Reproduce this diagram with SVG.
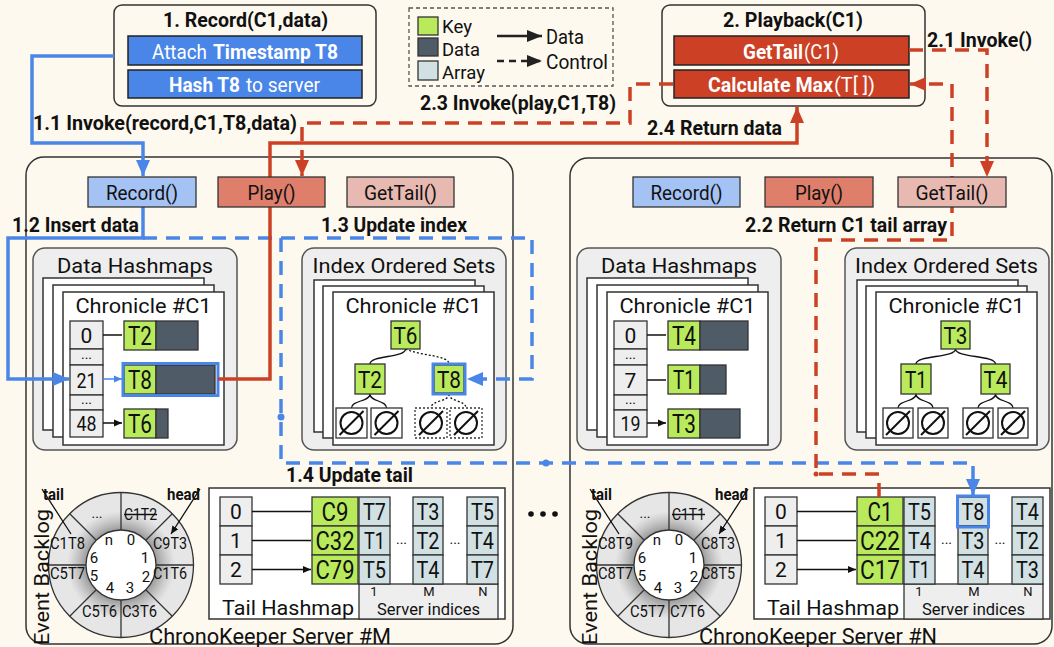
<svg xmlns="http://www.w3.org/2000/svg" width="1054" height="647" viewBox="0 0 1054 647">
<defs>
<style>
text{font-family:Roboto,"Liberation Sans",sans-serif;fill:#111}
.b{font-weight:bold;font-size:20px}
.n{font-size:20px}
.lg{font-size:19px}
.m{text-anchor:middle}
.w{fill:#fff}
.srv{fill:#fef9ef;stroke:#333;stroke-width:1.5}
.top{fill:#fef9ef;stroke:#333;stroke-width:1.5}
.pan{fill:#eeeeee;stroke:#555;stroke-width:1.5}
.pg{fill:#fff;stroke:#333;stroke-width:1.5}
.ix{fill:#eeeeee;stroke:#333;stroke-width:1.3}
.key{fill:#b9ea5c;stroke:#333;stroke-width:1.3}
.dat{fill:#4f5b66;stroke:#333;stroke-width:1.3}
.arr{fill:#d0e0e3;stroke:#333;stroke-width:1.3}
.bl{fill:none;stroke:#4a86e8;stroke-width:3.5}
.rd{fill:none;stroke:#cc4125;stroke-width:3.5}
.ds{stroke-dasharray:14 9}
.thin{fill:none;stroke:#111;stroke-width:1.3}
.nul{fill:#fff;stroke:#333;stroke-width:1.3}
.dot{stroke-dasharray:2 2}
.sym{fill:none;stroke:#111;stroke-width:2}
.kt{font-size:26px;text-anchor:middle}
.tk{font-size:24px;text-anchor:middle}
.at{font-size:23px;text-anchor:middle}
.it{font-size:21px;text-anchor:middle}
.rl{font-size:17px;text-anchor:middle}
.rn{font-size:15px;text-anchor:middle}
.sm{font-size:14px;text-anchor:middle}
.si{font-size:13px;text-anchor:middle}
.bluebox{fill:none;stroke:#4a86e8;stroke-width:3}
</style>
<marker id="mb" markerUnits="userSpaceOnUse" markerWidth="18" markerHeight="16" refX="16" refY="8" orient="auto"><path d="M0,1L16,8L0,15z" fill="#4a86e8"/></marker>
<marker id="mr" markerUnits="userSpaceOnUse" markerWidth="18" markerHeight="16" refX="16" refY="8" orient="auto"><path d="M0,1L16,8L0,15z" fill="#cc4125"/></marker>
<marker id="mk" markerUnits="userSpaceOnUse" markerWidth="9" markerHeight="8" refX="8" refY="4" orient="auto"><path d="M0,0.5L8,4L0,7.5z" fill="#111"/></marker>
<marker id="mbs" markerUnits="userSpaceOnUse" markerWidth="9" markerHeight="8" refX="8" refY="4" orient="auto"><path d="M0,0.5L8,4L0,7.5z" fill="#4a86e8"/></marker>
<marker id="ml" markerUnits="userSpaceOnUse" markerWidth="16" markerHeight="14" refX="15" refY="6" orient="auto"><path d="M0,0L15,6L0,12z" fill="#222"/></marker>
<radialGradient id="sh" cx="0" cy="0" r="54" gradientUnits="userSpaceOnUse">
<stop offset="0.62" stop-color="#777" stop-opacity="0.75"/>
<stop offset="1" stop-color="#999" stop-opacity="0"/>
</radialGradient>
<g id="ring">
<circle r="72.5" fill="#e6e6e6" stroke="#333" stroke-width="1.3"/>
<circle r="54" fill="url(#sh)"/>
<path d="M35,0H72.5M24.75,24.75L51.27,51.27M0,35V72.5M-24.75,24.75L-51.27,51.27M-35,0H-72.5M-24.75,-24.75L-51.27,-51.27M0,-35V-72.5M24.75,-24.75L51.27,-51.27" stroke="#333" stroke-width="1.3"/>
<circle r="35" fill="#fff" stroke="#333" stroke-width="1.3"/>
<text class="rn" x="-12" y="-20">n</text>
<text class="rn" x="10" y="-20">0</text>
<text class="rn" x="24" y="-2">1</text>
<text class="rn" x="25" y="17">2</text>
<text class="rn" x="9" y="28">3</text>
<text class="rn" x="-11" y="28">4</text>
<text class="rn" x="-27" y="16">5</text>
<text class="rn" x="-27" y="-2">6</text>
<text class="sm" x="-24" y="-47">...</text>
<path d="M-79,-76L-50,-31M79,-76L50,-31" class="thin" marker-end="url(#mk)"/>
<text class="b m" style="font-size:17px" x="-67.5" y="-65" textLength="21" lengthAdjust="spacingAndGlyphs">tail</text>
<text class="b m" style="font-size:17px" x="62.5" y="-65" textLength="33" lengthAdjust="spacingAndGlyphs">head</text>
</g>
</defs>

<rect width="1054" height="647" fill="#fef9ef"/>

<g id="server-M">
<rect class="srv" x="26" y="157" width="487" height="487" rx="18"/>
<text class="n m" style="font-size:22px" x="270" y="644" textLength="242" lengthAdjust="spacingAndGlyphs">ChronoKeeper Server #M</text>
</g>
<g id="server-N">
<rect class="srv" x="570" y="158" width="482" height="486" rx="18"/>
<text class="n m" style="font-size:22px" x="818" y="644" textLength="238" lengthAdjust="spacingAndGlyphs">ChronoKeeper Server #N</text>
</g>

<g id="record-client">
<rect class="top" x="114" y="5" width="262" height="101" rx="8"/>
<text class="b m" x="245.5" y="27" textLength="165" lengthAdjust="spacingAndGlyphs">1. Record(C1,data)</text>
<rect x="128" y="36" width="234" height="29" fill="#4a86e8" stroke="#222" stroke-width="1.5"/>
<rect x="128" y="70" width="234" height="28" fill="#4a86e8" stroke="#222" stroke-width="1.5"/>
<text class="n w" x="152" y="59" textLength="55" lengthAdjust="spacingAndGlyphs">Attach</text>
<text class="b w" x="213" y="59" textLength="125" lengthAdjust="spacingAndGlyphs">Timestamp T8</text>
<text class="b w" x="169" y="92" textLength="71" lengthAdjust="spacingAndGlyphs">Hash T8</text>
<text class="n w" x="246" y="92" textLength="74" lengthAdjust="spacingAndGlyphs">to server</text>
</g>

<g id="playback-client">
<rect class="top" x="662" y="5" width="263" height="101" rx="8"/>
<text class="b m" x="793" y="27" textLength="140" lengthAdjust="spacingAndGlyphs">2. Playback(C1)</text>
<rect x="674" y="36" width="235" height="29" fill="#cc4125" stroke="#222" stroke-width="1.5"/>
<rect x="674" y="70" width="235" height="28" fill="#cc4125" stroke="#222" stroke-width="1.5"/>
<text class="b w" x="743" y="59" textLength="60" lengthAdjust="spacingAndGlyphs">GetTail</text>
<text class="n w" x="804" y="59" textLength="35" lengthAdjust="spacingAndGlyphs">(C1)</text>
<text class="b w" x="708" y="92" textLength="125" lengthAdjust="spacingAndGlyphs">Calculate Max</text>
<text class="n w" x="834" y="92" textLength="41" lengthAdjust="spacingAndGlyphs">(T[ ])</text>
</g>

<g id="legend">
<rect x="409" y="8" width="204" height="78" fill="none" stroke="#555" stroke-width="1.3" stroke-dasharray="4 3"/>
<rect x="418" y="17" width="20" height="18" class="key"/>
<rect x="418" y="38" width="20" height="18" class="dat"/>
<rect x="418" y="61" width="20" height="19" class="arr"/>
<text class="lg" x="442" y="33" textLength="30" lengthAdjust="spacingAndGlyphs">Key</text>
<text class="lg" x="442" y="56" textLength="38" lengthAdjust="spacingAndGlyphs">Data</text>
<text class="lg" x="442" y="79" textLength="43" lengthAdjust="spacingAndGlyphs">Array</text>
<path d="M497,36H542" fill="none" stroke="#222" stroke-width="2.5" marker-end="url(#ml)"/>
<path d="M497,61H542" fill="none" stroke="#222" stroke-width="2.5" stroke-dasharray="7 5" marker-end="url(#ml)"/>
<text class="n" x="546" y="44" textLength="38" lengthAdjust="spacingAndGlyphs">Data</text>
<text class="n" x="546" y="69" textLength="62" lengthAdjust="spacingAndGlyphs">Control</text>
</g>

<g id="data-hashmaps-M">
<rect class="pan" x="33" y="248" width="204" height="202" rx="12"/>
<text class="n m" style="font-size:21px" x="135" y="273" textLength="156" lengthAdjust="spacingAndGlyphs">Data Hashmaps</text>
<rect class="pg" x="43" y="278" width="161" height="152"/>
<rect class="pg" x="53" y="285" width="161" height="152"/>
<rect class="pg" x="63" y="292" width="161" height="153"/>
<text class="n m" style="font-size:21px" x="143.5" y="313" textLength="136" lengthAdjust="spacingAndGlyphs">Chronicle #C1</text>
<rect class="ix" x="70" y="321" width="33" height="28"/>
<rect class="ix" x="70" y="349" width="33" height="16"/>
<rect class="ix" x="70" y="365" width="33" height="30"/>
<rect class="ix" x="70" y="395" width="33" height="15"/>
<rect class="ix" x="70" y="410" width="33" height="27"/>
<text class="it" x="86.5" y="343">0</text>
<text class="sm" x="86.5" y="359">...</text>
<text class="it" x="86.5" y="388" textLength="20" lengthAdjust="spacingAndGlyphs">21</text>
<text class="sm" x="86.5" y="404">...</text>
<text class="it" x="86.5" y="431" textLength="20" lengthAdjust="spacingAndGlyphs">48</text>
<path class="thin" d="M103,335H122M103,423H122" marker-end="url(#mk)"/>
<rect class="key" x="124" y="321" width="32" height="29"/>
<rect class="dat" x="156" y="321" width="42" height="29"/>
<text class="kt" x="140" y="345" textLength="24" lengthAdjust="spacingAndGlyphs">T2</text>
<rect class="key" x="124" y="365" width="32" height="29"/>
<rect class="dat" x="156" y="365" width="59" height="29"/>
<rect class="bluebox" x="123" y="363.5" width="95" height="32"/>
<text class="kt" x="140" y="389" textLength="24" lengthAdjust="spacingAndGlyphs">T8</text>
<rect class="key" x="124" y="409" width="32" height="29"/>
<rect class="dat" x="156" y="409" width="12" height="29"/>
<text class="kt" x="140" y="433" textLength="24" lengthAdjust="spacingAndGlyphs">T6</text>
</g>

<g id="index-sets-M">
<rect class="pan" x="302" y="248" width="204" height="202" rx="12"/>
<text class="n m" style="font-size:21px" x="404" y="273" textLength="183" lengthAdjust="spacingAndGlyphs">Index Ordered Sets</text>
<rect class="pg" x="314" y="280" width="161" height="152"/>
<rect class="pg" x="323" y="286" width="161" height="152"/>
<rect class="pg" x="333" y="292" width="161" height="153"/>
<text class="n m" style="font-size:21px" x="413.5" y="313" textLength="136" lengthAdjust="spacingAndGlyphs">Chronicle #C1</text>
<path class="thin" d="M405.5,349C405.5,358 370,355 370,364M370,394C370,402 351.5,400 351.5,408M370,394C370,402 386.5,400 386.5,408"/>
<path class="thin dot" d="M405.5,349C420,356 449,355 449,364M449,394C449,402 431,400 431,408M449,394C449,402 466,400 466,408"/>
<rect class="key" x="391" y="321" width="29" height="28"/>
<text class="tk" x="405.5" y="343.5" textLength="24" lengthAdjust="spacingAndGlyphs">T6</text>
<rect class="key" x="355" y="364" width="30" height="30"/>
<text class="tk" x="370" y="387.5" textLength="24" lengthAdjust="spacingAndGlyphs">T2</text>
<rect class="key" x="434" y="365" width="30" height="28"/>
<rect class="bluebox" x="433" y="364" width="32" height="30"/>
<text class="tk" x="449" y="387.5" textLength="24" lengthAdjust="spacingAndGlyphs">T8</text>
<rect class="nul" x="336" y="408" width="31" height="30"/>
<rect class="nul" x="371" y="408" width="31" height="30"/>
<rect class="nul dot" x="415" y="408" width="32" height="30"/>
<rect class="nul dot" x="450" y="408" width="32" height="30"/>
<g class="sym">
<circle cx="351.5" cy="423" r="11"/><path d="M339.5,435L363.5,411"/>
<circle cx="386.5" cy="423" r="11"/><path d="M374.5,435L398.5,411"/>
<circle cx="431" cy="423" r="11"/><path d="M419,435L443,411"/>
<circle cx="466" cy="423" r="11"/><path d="M454,435L478,411"/>
</g>
</g>

<g id="data-hashmaps-N">
<rect class="pan" x="577" y="248" width="204" height="202" rx="12"/>
<text class="n m" style="font-size:21px" x="679" y="273" textLength="156" lengthAdjust="spacingAndGlyphs">Data Hashmaps</text>
<rect class="pg" x="587" y="278" width="161" height="152"/>
<rect class="pg" x="597" y="285" width="161" height="152"/>
<rect class="pg" x="607" y="292" width="161" height="153"/>
<text class="n m" style="font-size:21px" x="687.5" y="313" textLength="136" lengthAdjust="spacingAndGlyphs">Chronicle #C1</text>
<rect class="ix" x="614" y="321" width="33" height="28"/>
<rect class="ix" x="614" y="349" width="33" height="16"/>
<rect class="ix" x="614" y="365" width="33" height="30"/>
<rect class="ix" x="614" y="395" width="33" height="15"/>
<rect class="ix" x="614" y="410" width="33" height="27"/>
<text class="it" x="630.5" y="343">0</text>
<text class="sm" x="630.5" y="359">...</text>
<text class="it" x="630.5" y="388">7</text>
<text class="sm" x="630.5" y="404">...</text>
<text class="it" x="630.5" y="431" textLength="20" lengthAdjust="spacingAndGlyphs">19</text>
<path class="thin" d="M647,335H666M647,380H666M647,423H666" marker-end="url(#mk)"/>
<rect class="key" x="668" y="321" width="32" height="29"/>
<rect class="dat" x="700" y="321" width="48" height="29"/>
<text class="kt" x="684" y="345" textLength="24" lengthAdjust="spacingAndGlyphs">T4</text>
<rect class="key" x="668" y="365" width="32" height="29"/>
<rect class="dat" x="700" y="365" width="26" height="29"/>
<text class="kt" x="684" y="389" textLength="22" lengthAdjust="spacingAndGlyphs">T1</text>
<rect class="key" x="668" y="409" width="32" height="29"/>
<rect class="dat" x="700" y="409" width="40" height="29"/>
<text class="kt" x="684" y="433" textLength="24" lengthAdjust="spacingAndGlyphs">T3</text>
</g>

<g id="index-sets-N">
<rect class="pan" x="845" y="248" width="204" height="202" rx="12"/>
<text class="n m" style="font-size:21px" x="946.5" y="273" textLength="183" lengthAdjust="spacingAndGlyphs">Index Ordered Sets</text>
<rect class="pg" x="857" y="280" width="161" height="152"/>
<rect class="pg" x="866" y="286" width="161" height="152"/>
<rect class="pg" x="876" y="292" width="161" height="153"/>
<text class="n m" style="font-size:21px" x="956.5" y="313" textLength="136" lengthAdjust="spacingAndGlyphs">Chronicle #C1</text>
<path class="thin" d="M955.5,349C955.5,358 916,355 916,364M955.5,349C955.5,358 995.5,355 995.5,364M916,394C916,402 898,400 898,408M916,394C916,402 933,400 933,408M995.5,394C995.5,402 978,400 978,408M995.5,394C995.5,402 1013,400 1013,408"/>
<rect class="key" x="941" y="321" width="29" height="28"/>
<text class="tk" x="955.5" y="343.5" textLength="24" lengthAdjust="spacingAndGlyphs">T3</text>
<rect class="key" x="901" y="364" width="30" height="30"/>
<text class="tk" x="916" y="387.5" textLength="22" lengthAdjust="spacingAndGlyphs">T1</text>
<rect class="key" x="981" y="364" width="29" height="30"/>
<text class="tk" x="995.5" y="387.5" textLength="24" lengthAdjust="spacingAndGlyphs">T4</text>
<rect class="nul" x="883" y="408" width="30" height="30"/>
<rect class="nul" x="918" y="408" width="30" height="30"/>
<rect class="nul" x="963" y="408" width="30" height="30"/>
<rect class="nul" x="998" y="408" width="30" height="30"/>
<g class="sym">
<circle cx="898" cy="423" r="11"/><path d="M886,435L910,411"/>
<circle cx="933" cy="423" r="11"/><path d="M921,435L945,411"/>
<circle cx="978" cy="423" r="11"/><path d="M966,435L990,411"/>
<circle cx="1013" cy="423" r="11"/><path d="M1001,435L1025,411"/>
</g>
</g>

<g id="event-backlog-M">
<use href="#ring" x="121" y="565"/>
<g transform="translate(121,565)">
<text class="rl" x="19.5" y="-45" textLength="33" lengthAdjust="spacingAndGlyphs">C1T2</text>
<path d="M3,-50.5H36" stroke="#111" stroke-width="1.3"/>
<text class="rl" x="49" y="-16" textLength="34" lengthAdjust="spacingAndGlyphs">C9T3</text>
<text class="rl" x="49" y="14" textLength="34" lengthAdjust="spacingAndGlyphs">C1T6</text>
<text class="rl" x="18.5" y="52" textLength="35" lengthAdjust="spacingAndGlyphs">C3T6</text>
<text class="rl" x="-21.5" y="52" textLength="35" lengthAdjust="spacingAndGlyphs">C5T6</text>
<text class="rl" x="-53.5" y="14" textLength="35" lengthAdjust="spacingAndGlyphs">C5T7</text>
<text class="rl" x="-53.5" y="-16" textLength="35" lengthAdjust="spacingAndGlyphs">C1T8</text>
</g>
<text class="n m" style="font-size:21px" transform="translate(49,577) rotate(-90)" textLength="136" lengthAdjust="spacingAndGlyphs">Event Backlog</text>
</g>

<g id="event-backlog-N">
<use href="#ring" x="669" y="565"/>
<g transform="translate(669,565)">
<text class="rl" x="19.5" y="-45" textLength="33" lengthAdjust="spacingAndGlyphs">C1T1</text>
<path d="M3,-50.5H36" stroke="#111" stroke-width="1.3"/>
<text class="rl" x="49" y="-16" textLength="34" lengthAdjust="spacingAndGlyphs">C8T3</text>
<text class="rl" x="49" y="14" textLength="34" lengthAdjust="spacingAndGlyphs">C8T5</text>
<text class="rl" x="18.5" y="52" textLength="35" lengthAdjust="spacingAndGlyphs">C7T6</text>
<text class="rl" x="-21.5" y="52" textLength="35" lengthAdjust="spacingAndGlyphs">C5T7</text>
<text class="rl" x="-53.5" y="14" textLength="35" lengthAdjust="spacingAndGlyphs">C8T7</text>
<text class="rl" x="-53.5" y="-16" textLength="35" lengthAdjust="spacingAndGlyphs">C8T9</text>
</g>
<text class="n m" style="font-size:21px" transform="translate(597,577) rotate(-90)" textLength="136" lengthAdjust="spacingAndGlyphs">Event Backlog</text>
</g>

<g id="tail-hashmap-M">
<rect x="209" y="488" width="296" height="131" fill="#fff" stroke="#333" stroke-width="1.5"/>
<rect x="359" y="584" width="139" height="35" fill="#eeeeee" stroke="#333" stroke-width="1.3"/>
<rect class="ix" x="220" y="497" width="32" height="29"/>
<rect class="ix" x="220" y="526" width="32" height="29"/>
<rect class="ix" x="220" y="555" width="32" height="29"/>
<text class="it" x="236" y="519">0</text>
<text class="it" x="236" y="548">1</text>
<text class="it" x="236" y="577">2</text>
<path class="thin" d="M252,511.5H311M252,540.5H311M252,569.5H311" marker-end="url(#mk)"/>
<rect class="key" x="312" y="497" width="46" height="29"/>
<rect class="key" x="312" y="526" width="46" height="29"/>
<rect class="key" x="312" y="555" width="46" height="29"/>
<text class="kt" style="font-size:25px" x="335" y="520.5" textLength="27" lengthAdjust="spacingAndGlyphs">C9</text>
<text class="kt" style="font-size:25px" x="335" y="549.5" textLength="39" lengthAdjust="spacingAndGlyphs">C32</text>
<text class="kt" style="font-size:25px" x="335" y="578.5" textLength="39" lengthAdjust="spacingAndGlyphs">C79</text>
<rect class="arr" x="359" y="497" width="31" height="29"/><rect class="arr" x="359" y="526" width="31" height="29"/><rect class="arr" x="359" y="555" width="31" height="29"/>
<rect class="arr" x="413" y="497" width="30" height="29"/><rect class="arr" x="413" y="526" width="30" height="29"/><rect class="arr" x="413" y="555" width="30" height="29"/>
<rect class="arr" x="467" y="497" width="31" height="29"/><rect class="arr" x="467" y="526" width="31" height="29"/><rect class="arr" x="467" y="555" width="31" height="29"/>
<text class="at" x="374.5" y="519.5" textLength="23" lengthAdjust="spacingAndGlyphs">T7</text>
<text class="at" x="374.5" y="548.5" textLength="21" lengthAdjust="spacingAndGlyphs">T1</text>
<text class="at" x="374.5" y="577.5" textLength="23" lengthAdjust="spacingAndGlyphs">T5</text>
<text class="at" x="428" y="519.5" textLength="23" lengthAdjust="spacingAndGlyphs">T3</text>
<text class="at" x="428" y="548.5" textLength="23" lengthAdjust="spacingAndGlyphs">T2</text>
<text class="at" x="428" y="577.5" textLength="23" lengthAdjust="spacingAndGlyphs">T4</text>
<text class="at" x="482.5" y="519.5" textLength="23" lengthAdjust="spacingAndGlyphs">T5</text>
<text class="at" x="482.5" y="548.5" textLength="23" lengthAdjust="spacingAndGlyphs">T4</text>
<text class="at" x="482.5" y="577.5" textLength="23" lengthAdjust="spacingAndGlyphs">T7</text>
<text class="sm" x="401.5" y="544">...</text>
<text class="sm" x="455" y="544">...</text>
<text class="si" x="374" y="596">1</text>
<text class="si" x="429" y="596">M</text>
<text class="si" x="483" y="596">N</text>
<text class="n m" style="font-size:17px" x="428.5" y="615" textLength="103" lengthAdjust="spacingAndGlyphs">Server indices</text>
<text class="n" style="font-size:21px" x="222" y="615" textLength="132" lengthAdjust="spacingAndGlyphs">Tail Hashmap</text>
</g>

<g id="tail-hashmap-N">
<rect x="754" y="488" width="296" height="131" fill="#fff" stroke="#333" stroke-width="1.5"/>
<rect x="904" y="584" width="139" height="35" fill="#eeeeee" stroke="#333" stroke-width="1.3"/>
<rect class="ix" x="765" y="497" width="32" height="29"/>
<rect class="ix" x="765" y="526" width="32" height="29"/>
<rect class="ix" x="765" y="555" width="32" height="29"/>
<text class="it" x="781" y="519">0</text>
<text class="it" x="781" y="548">1</text>
<text class="it" x="781" y="577">2</text>
<path class="thin" d="M797,511.5H856M797,540.5H856M797,569.5H856" marker-end="url(#mk)"/>
<rect class="key" x="857" y="497" width="46" height="29"/>
<rect class="key" x="857" y="526" width="46" height="29"/>
<rect class="key" x="857" y="555" width="46" height="29"/>
<text class="kt" style="font-size:25px" x="880" y="520.5" textLength="25" lengthAdjust="spacingAndGlyphs">C1</text>
<text class="kt" style="font-size:25px" x="880" y="549.5" textLength="40" lengthAdjust="spacingAndGlyphs">C22</text>
<text class="kt" style="font-size:25px" x="880" y="578.5" textLength="40" lengthAdjust="spacingAndGlyphs">C17</text>
<rect class="arr" x="904" y="497" width="31" height="29"/><rect class="arr" x="904" y="526" width="31" height="29"/><rect class="arr" x="904" y="555" width="31" height="29"/>
<rect class="arr" x="958" y="497" width="30" height="29"/><rect class="arr" x="958" y="526" width="30" height="29"/><rect class="arr" x="958" y="555" width="30" height="29"/>
<rect class="arr" x="1012" y="497" width="31" height="29"/><rect class="arr" x="1012" y="526" width="31" height="29"/><rect class="arr" x="1012" y="555" width="31" height="29"/>
<rect class="bluebox" x="957.5" y="496" width="31" height="31"/>
<text class="at" x="919.5" y="519.5" textLength="23" lengthAdjust="spacingAndGlyphs">T5</text>
<text class="at" x="919.5" y="548.5" textLength="23" lengthAdjust="spacingAndGlyphs">T4</text>
<text class="at" x="919.5" y="577.5" textLength="21" lengthAdjust="spacingAndGlyphs">T1</text>
<text class="at" x="973" y="519.5" textLength="23" lengthAdjust="spacingAndGlyphs">T8</text>
<text class="at" x="973" y="548.5" textLength="23" lengthAdjust="spacingAndGlyphs">T3</text>
<text class="at" x="973" y="577.5" textLength="23" lengthAdjust="spacingAndGlyphs">T4</text>
<text class="at" x="1027.5" y="519.5" textLength="23" lengthAdjust="spacingAndGlyphs">T4</text>
<text class="at" x="1027.5" y="548.5" textLength="23" lengthAdjust="spacingAndGlyphs">T2</text>
<text class="at" x="1027.5" y="577.5" textLength="23" lengthAdjust="spacingAndGlyphs">T3</text>
<text class="sm" x="946.5" y="544">...</text>
<text class="sm" x="1000" y="544">...</text>
<text class="si" x="919" y="596">1</text>
<text class="si" x="974" y="596">M</text>
<text class="si" x="1028" y="596">N</text>
<text class="n m" style="font-size:17px" x="973.5" y="615" textLength="103" lengthAdjust="spacingAndGlyphs">Server indices</text>
<text class="n" style="font-size:21px" x="767" y="615" textLength="132" lengthAdjust="spacingAndGlyphs">Tail Hashmap</text>
</g>

<g id="ellipsis">
<circle cx="531" cy="514" r="2.8" fill="#111"/>
<circle cx="543" cy="514" r="2.8" fill="#111"/>
<circle cx="555" cy="514" r="2.8" fill="#111"/>
</g>

<g id="connectors">
<path class="bl" d="M114,56H32V143H143V176" marker-end="url(#mb)"/>
<path class="bl" d="M143,207V238H8V379H69" marker-end="url(#mb)"/>
<path d="M103,379H122" fill="none" stroke="#4a86e8" stroke-width="1.5" marker-end="url(#mbs)"/>
<path class="bl ds" d="M143,238H532V379H467" marker-end="url(#mb)"/>
<path class="bl ds" d="M281,238V463H973V495" marker-end="url(#mb)"/>
<circle cx="281" cy="417" r="3.5" fill="#4a86e8"/>
<circle cx="546" cy="463" r="3.5" fill="#4a86e8"/>
<path class="rd" d="M218,379H270V143H797V107" marker-end="url(#mr)"/>
<path class="rd ds" d="M673,84H630V123H302V176" marker-end="url(#mr)"/>
<path class="rd ds" d="M909,50H987V177" marker-end="url(#mr)"/>
<path class="rd ds" d="M879,497V474H816V240H952V84H910" marker-end="url(#mr)"/>
<circle cx="816" cy="474" r="2.5" fill="#cc4125"/>
</g>

<g id="labels">
<text class="b" x="33" y="130" textLength="264" lengthAdjust="spacingAndGlyphs">1.1 Invoke(record,C1,T8,data)</text>
<text class="b" x="12" y="232" textLength="127" lengthAdjust="spacingAndGlyphs">1.2 Insert data</text>
<text class="b" x="321" y="232" textLength="146" lengthAdjust="spacingAndGlyphs">1.3 Update index</text>
<text class="b" x="286" y="482" textLength="127" lengthAdjust="spacingAndGlyphs">1.4 Update tail</text>
<text class="b" x="927" y="47" textLength="105" lengthAdjust="spacingAndGlyphs">2.1 Invoke()</text>
<text class="b" x="745" y="232" textLength="202" lengthAdjust="spacingAndGlyphs">2.2 Return C1 tail array</text>
<text class="b" x="420" y="110" textLength="196" lengthAdjust="spacingAndGlyphs">2.3 Invoke(play,C1,T8)</text>
<text class="b" x="647" y="135" textLength="135" lengthAdjust="spacingAndGlyphs">2.4 Return data</text>
</g>

<g id="buttons-M">
<rect x="88" y="177" width="108" height="30" fill="#a4c2f4" stroke="#333" stroke-width="1.3"/>
<text class="n m" x="142" y="200" textLength="72" lengthAdjust="spacingAndGlyphs">Record()</text>
<rect x="218" y="177" width="107" height="30" fill="#df7e6b" stroke="#333" stroke-width="1.3"/>
<text class="n m" x="271.5" y="200" textLength="48" lengthAdjust="spacingAndGlyphs">Play()</text>
<rect x="347" y="177" width="107" height="30" fill="#e8b9b0" stroke="#333" stroke-width="1.3"/>
<text class="n m" x="400.5" y="200" textLength="73" lengthAdjust="spacingAndGlyphs">GetTail()</text>
</g>
<g id="buttons-N">
<rect x="633" y="177" width="107" height="30" fill="#a4c2f4" stroke="#333" stroke-width="1.3"/>
<text class="n m" x="686.5" y="200" textLength="72" lengthAdjust="spacingAndGlyphs">Record()</text>
<rect x="765" y="177" width="108" height="30" fill="#df7e6b" stroke="#333" stroke-width="1.3"/>
<text class="n m" x="819" y="200" textLength="48" lengthAdjust="spacingAndGlyphs">Play()</text>
<rect x="898" y="177" width="108" height="30" fill="#e8b9b0" stroke="#333" stroke-width="1.3"/>
<text class="n m" x="952" y="200" textLength="73" lengthAdjust="spacingAndGlyphs">GetTail()</text>
</g>
</svg>
